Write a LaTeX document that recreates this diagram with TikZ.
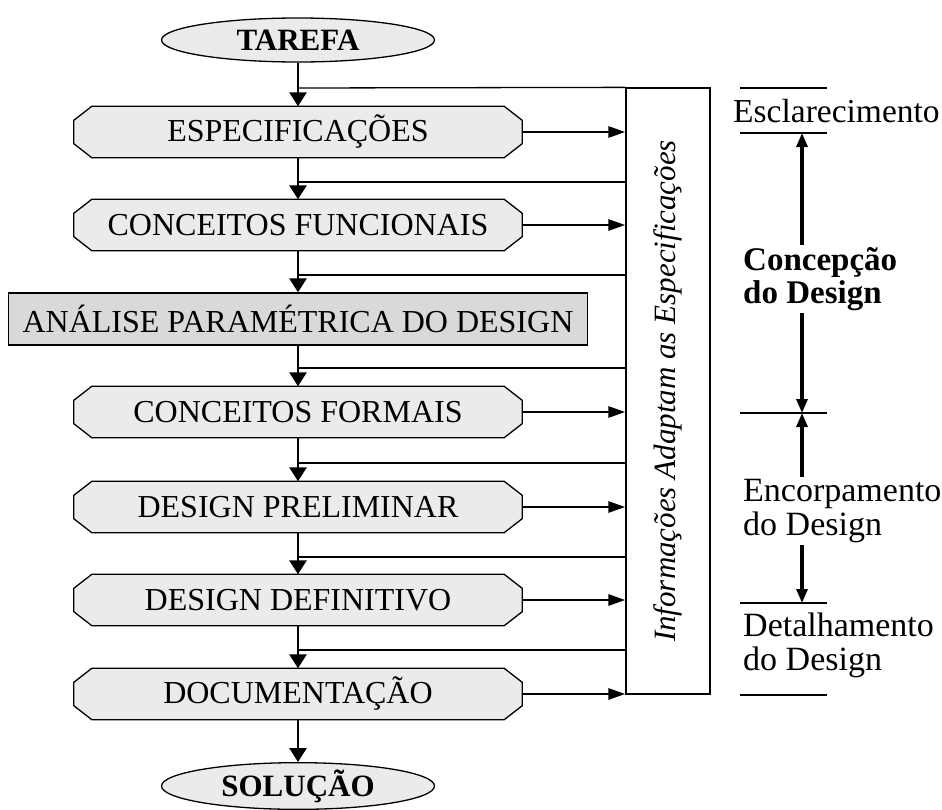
\documentclass[tikz,border=0pt]{standalone}
\usepackage{fontspec}
\setmainfont{Liberation Serif}
\usetikzlibrary{shapes.geometric,arrows.meta}

\definecolor{cinzaclaro}{HTML}{EBEBEB}
\definecolor{cinzaescuro}{HTML}{D9D9D9}

\pgfdeclarelayer{fundo}
\pgfsetlayers{fundo,main}

\tikzset{
    etapa/.style={rectangle, minimum width=448pt, minimum height=51pt, inner sep=0pt,
        font=\fontsize{32}{34}\selectfont},
    chanfro/.style={draw, line width=1.3pt, fill=cinzaclaro},
    analise/.style={rectangle, draw, line width=1.3pt, fill=cinzaescuro,
        minimum width=579pt, minimum height=52pt, inner sep=0pt,
        font=\fontsize{32}{34}\selectfont},
    terminal/.style={ellipse, draw, line width=1.3pt, fill=cinzaclaro,
        minimum width=273pt, minimum height=44pt, inner sep=0pt,
        font=\fontsize{31}{33}\selectfont\bfseries},
    fase/.style={align=left, inner sep=2pt, font=\fontsize{34}{34}\selectfont},
    fluxo/.style={line width=2.8pt, -{Triangle[length=14pt, width=17pt]}},
    seta/.style={line width=2.8pt, -{Triangle[length=17pt, width=11pt]}},
    marco/.style={line width=3.2pt, -{Triangle[length=14pt, width=11pt]}},
    retorno/.style={line width=1.3pt},
}

\begin{document}
\begin{tikzpicture}[x=1pt, y=-1pt]
    \useasboundingbox (0,0) rectangle (942,809);

    % etapas do processo
    \node[terminal] (tarefa) at (298,40) {TAREFA};
    \node[etapa] (espec) at (298,132) {ESPECIFICAÇÕES};
    \node[etapa] (funcionais) at (298,225) {CONCEITOS FUNCIONAIS};
    \node[analise] (analise) at (298,319) {ANÁLISE PARAMÉTRICA DO DESIGN};
    \node[etapa] (formais) at (298,412) {CONCEITOS FORMAIS};
    \node[etapa] (preliminar) at (298,507) {DESIGN PRELIMINAR};
    \node[etapa] (definitivo) at (298,600) {DESIGN DEFINITIVO};
    \node[etapa] (documentacao) at (298,694) {DOCUMENTAÇÃO};
    \node[terminal] (solucao) at (298,786) {SOLUÇÃO};

    % caixas chanfradas atras do texto
    \begin{pgfonlayer}{fundo}
        \foreach \n in {espec,funcionais,formais,preliminar,definitivo,documentacao}
            \draw[chanfro] ([xshift=18pt]\n.north west) -- ([xshift=-18pt]\n.north east)
                -- ([yshift=-14pt]\n.north east) -- ([yshift=14pt]\n.south east)
                -- ([xshift=-18pt]\n.south east) -- ([xshift=18pt]\n.south west)
                -- ([yshift=14pt]\n.south west) -- ([yshift=-14pt]\n.north west) -- cycle;
    \end{pgfonlayer}

    % fluxo principal
    \draw[fluxo] (tarefa) -- (espec);
    \draw[fluxo] (espec) -- (funcionais);
    \draw[fluxo] (funcionais) -- (analise);
    \draw[fluxo] (analise) -- (formais);
    \draw[fluxo] (formais) -- (preliminar);
    \draw[fluxo] (preliminar) -- (definitivo);
    \draw[fluxo] (definitivo) -- (documentacao);
    \draw[fluxo] (documentacao) -- (solucao);

    % informacoes
    \node[draw, line width=1.3pt, minimum width=84pt, minimum height=606pt,
        inner sep=0pt] (info) at (668,391) {};
    \node[rotate=90, font=\fontsize{31}{33}\selectfont\itshape] (infotexto)
        at (info.center) {Informações Adaptam as Especificações};

    \coordinate (j0) at (298,88);
    \draw[retorno] (j0) -- (info.north west);
    \foreach \y [count=\i] in {182,275,368,463,557,650}
        \coordinate (j\i) at (298,\y);
    \foreach \i in {1,...,6}
        \draw[retorno] (j\i) -- (j\i -| info.west);
    \foreach \n in {espec,funcionais,formais,preliminar,definitivo,documentacao}
        \draw[seta] (\n.east) -- (\n.east -| info.west);

    % fases do design
    \coordinate (m1) at (802,88);
    \coordinate (m2) at (802,133);
    \coordinate (m3) at (802,413);
    \coordinate (m4) at (802,603);
    \coordinate (m5) at (802,695);
    \foreach \m in {m1,m2,m3,m4,m5}
        \draw[retorno] ([xshift=-62pt]\m) -- ([xshift=25pt]\m);

    \node[fase, anchor=west, font=\fontsize{33.5}{34}\selectfont] (esclarecimento)
        at (731,111) {Esclarecimento};
    \node[fase, anchor=west, font=\fontsize{33}{33}\selectfont\bfseries] (concepcao)
        at (741,279) {Concepção\\do Design};
    \node[fase, anchor=west] (encorpamento) at (741,511) {Encorpamento\\do Design};
    \node[fase, anchor=west] (detalhamento) at (741,645) {Detalhamento\\do Design};

    \draw[marco] (concepcao.north -| m2) -- (m2);
    \draw[marco] (concepcao.south -| m3) -- (m3);
    \draw[marco] (encorpamento.north -| m3) -- (m3);
    \draw[marco] (encorpamento.south -| m4) -- (m4);
\end{tikzpicture}
\end{document}
